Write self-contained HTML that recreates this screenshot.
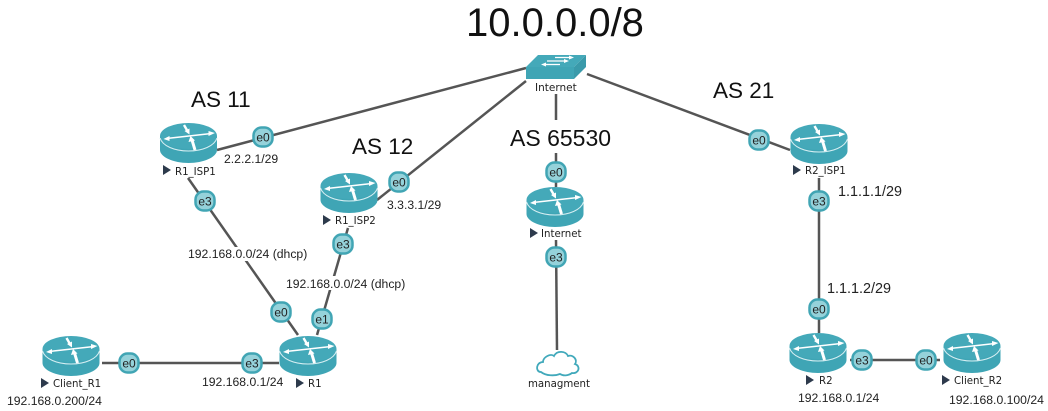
<!DOCTYPE html>
<html><head><meta charset="utf-8">
<style>
html,body{margin:0;padding:0;background:#fff;width:1048px;height:411px;overflow:hidden}
svg{display:block}
text{font-family:"Liberation Sans",sans-serif;fill:#111}
.h{font-size:22.500px}
.ip{font-size:12.200px;fill:#222}
.n{font-size:10.200px;fill:#222;font-family:"DejaVu Sans","Liberation Sans",sans-serif}
.p{font-size:12px;text-anchor:middle;fill:#222;font-family:"Liberation Sans",sans-serif}
line{stroke:#555;stroke-width:2.500}
</style></head><body>
<svg width="1048" height="411" viewBox="0 0 1048 411" xmlns="http://www.w3.org/2000/svg">
<defs>
<g id="r">
<path d="M-28.500 13V27C-28.500 34 -15 40 0 40S28.500 34 28.500 27V13Z" fill="#3fa5b5"/>
<ellipse cx="0" cy="13" rx="28.500" ry="13" fill="#44a9b9"/>
<path d="M-28.500 15C-26 23 -14 28 0 28S26 23 28.500 15" fill="none" stroke="#d5eef2" stroke-width="1.100"/>
<g stroke="#fff" fill="#fff">
<path d="M-22 15.500L23 10.500" stroke-width="1.400"/>
<path d="M-25 16L-19 13V18Z" stroke="none"/><path d="M26.500 10L20 8V13Z" stroke="none"/>
<path d="M-4.500 2L-1 8" stroke-width="2.400"/><path d="M1 11.500L-4 8L1 5.500Z" stroke="none"/>
<path d="M6.500 27L3.500 17" stroke-width="3"/><path d="M2 13L6.500 17.500L0 19Z" stroke="none"/>
</g>
</g>
<g id="p">
<rect x="-9.500" y="-9.500" width="19" height="19" rx="8" fill="#95d2da" stroke="#41a5b4" stroke-width="2.500"/>
</g>
<path id="t" d="M0 0L8 5L0 10Z" fill="#2d3a4c"/>
</defs>

<line x1="526" y1="68" x2="217" y2="150"/>
<line x1="526" y1="81" x2="377" y2="200"/>
<line x1="556" y1="94" x2="556" y2="187"/>
<line x1="587" y1="74" x2="790" y2="150"/>
<line x1="188" y1="178" x2="298" y2="335"/>
<line x1="348" y1="228" x2="317" y2="335"/>
<line x1="556" y1="240" x2="557" y2="350"/>
<line x1="819" y1="178" x2="819" y2="333"/>
<line x1="102" y1="363" x2="279" y2="363"/>
<line x1="850" y1="360" x2="940" y2="360"/>

<rect x="186" y="247" width="150" height="14" fill="#fff"/>
<rect x="284" y="276" width="124" height="14" fill="#fff"/>
<rect x="160" y="163" width="60" height="15" fill="#fff"/>
<rect x="320" y="213" width="60" height="14" fill="#fff"/>
<rect x="525" y="227" width="60" height="13" fill="#fff"/>
<rect x="790" y="163" width="60" height="15" fill="#fff"/>
<rect x="505" y="120" width="110" height="33" fill="#fff"/>

<use href="#r" x="188.500" y="123"/>
<use href="#r" x="349" y="173"/>
<use href="#r" x="555" y="187"/>
<use href="#r" x="819" y="124"/>
<use href="#r" x="308" y="336"/>
<use href="#r" x="71" y="336"/>
<use href="#r" x="818" y="333"/>
<use href="#r" x="972" y="333"/>

<!-- switch -->
<path d="M526 67L538 55H586L574 67Z" fill="#44a9b9"/>
<path d="M526 67H574V79H526Z" fill="#3fa5b5"/>
<path d="M574 67L586 55V67L574 79Z" fill="#3a9aaa"/>
<g stroke="#fff" stroke-width="1.300" fill="#fff">
<path d="M555 57.500H572"/><path d="M574 57.500L569 55.500V59.500Z" stroke="none"/>
<path d="M547 61H567"/><path d="M569 61L564 59V63Z" stroke="none"/>
<path d="M544 64.500H560"/><path d="M541 64.500L546 62.500V66.500Z" stroke="none"/>
</g>

<!-- cloud -->
<path d="M541 372C535 372 536 362 543 362C543 357 551 353 554 356C557 350 566 351 568 356C573 354 578 360 575 364C581 366 579 374 572 373C568 376 563 376 560 374C555 376 546 376 541 372Z" fill="#fff" stroke="#41a9bb" stroke-width="1.800"/>

<!-- ports -->
<g>
<use href="#p" x="263" y="137"/><text class="p" x="263" y="141.500">e0</text>
<use href="#p" x="205" y="201"/><text class="p" x="205" y="205.500">e3</text>
<use href="#p" x="399" y="182"/><text class="p" x="399" y="186.500">e0</text>
<use href="#p" x="343" y="244"/><text class="p" x="343" y="248.500">e3</text>
<use href="#p" x="322" y="319"/><text class="p" x="322" y="323.500">e1</text>
<use href="#p" x="281" y="312"/><text class="p" x="281" y="316.500">e0</text>
<use href="#p" x="556" y="172"/><text class="p" x="556" y="176.500">e0</text>
<use href="#p" x="556" y="257"/><text class="p" x="556" y="261.500">e3</text>
<use href="#p" x="759" y="140"/><text class="p" x="759" y="144.500">e0</text>
<use href="#p" x="819" y="201"/><text class="p" x="819" y="205.500">e3</text>
<use href="#p" x="819" y="309"/><text class="p" x="819" y="313.500">e0</text>
<use href="#p" x="129" y="363"/><text class="p" x="129" y="367.500">e0</text>
<use href="#p" x="252" y="363"/><text class="p" x="252" y="367.500">e3</text>
<use href="#p" x="862" y="360"/><text class="p" x="862" y="364.500">e3</text>
<use href="#p" x="926" y="360"/><text class="p" x="926" y="364.500">e0</text>
</g>

<!-- name triangles -->
<use href="#t" x="163" y="165"/>
<use href="#t" x="323" y="215"/>
<use href="#t" x="530" y="228"/>
<use href="#t" x="793" y="165"/>
<use href="#t" x="296" y="378"/>
<use href="#t" x="41" y="378"/>
<use href="#t" x="806" y="375"/>
<use href="#t" x="942" y="375"/>

<text class="n" x="175" y="175">R1_ISP1</text>
<text class="n" x="335" y="224">R1_ISP2</text>
<text class="n" x="541" y="237">Internet</text>
<text class="n" x="805" y="174">R2_ISP1</text>
<text class="n" x="308" y="387">R1</text>
<text class="n" x="53" y="387">Client_R1</text>
<text class="n" x="819" y="384">R2</text>
<text class="n" x="954" y="384">Client_R2</text>
<text class="n" x="535" y="91" style="font-size:10.500px">Internet</text>
<text class="n" x="528" y="387">managment</text>

<text x="466" y="36" style="font-size:40px">10.0.0.0/8</text>
<text class="h" x="191" y="107">AS 11</text>
<text class="h" x="352" y="154">AS 12</text>
<text x="510" y="146" style="font-size:23px">AS 65530</text>
<text class="h" x="713" y="98">AS 21</text>

<text class="ip" x="224" y="163">2.2.2.1/29</text>
<text class="ip" x="387" y="209">3.3.3.1/29</text>
<text class="ip" x="188" y="258">192.168.0.0/24 (dhcp)</text>
<text class="ip" x="286" y="288">192.168.0.0/24 (dhcp)</text>
<text class="ip" x="202" y="386">192.168.0.1/24</text>
<text class="ip" x="7" y="405">192.168.0.200/24</text>
<text class="ip" x="838" y="196" style="font-size:14.400px">1.1.1.1/29</text>
<text class="ip" x="827" y="293" style="font-size:14.400px">1.1.1.2/29</text>
<text class="ip" x="798" y="402">192.168.0.1/24</text>
<text class="ip" x="949" y="404">192.168.0.100/24</text>
</svg>
</body></html>
